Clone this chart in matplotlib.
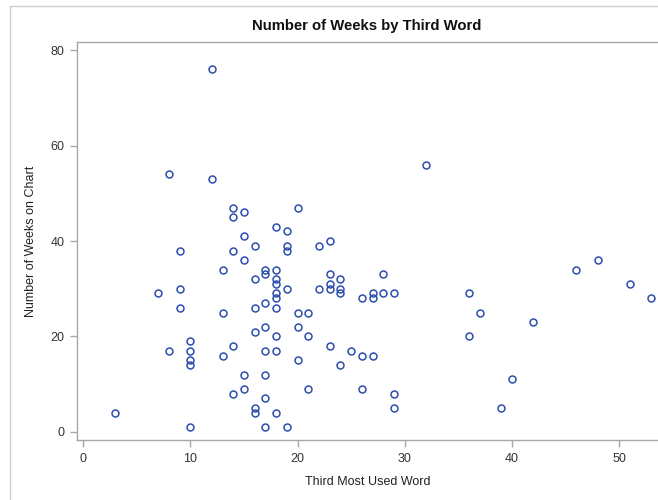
import matplotlib
matplotlib.use("Agg")
import matplotlib.pyplot as plt
from matplotlib.lines import Line2D

# data
third_word = [3, 7, 8, 8, 9, 9, 9, 10, 10, 10, 10, 10,
              12, 12, 13, 13, 13, 14, 14, 14, 14, 14,
              15, 15, 15, 15, 15, 16, 16, 16, 16, 16, 16,
              17, 17, 17, 17, 17, 17, 17, 17,
              18, 18, 18, 18, 18, 18, 18, 18, 18, 18,
              19, 19, 19, 19, 19, 20, 20, 20, 20, 21, 21, 21,
              22, 22, 23, 23, 23, 23, 23, 24, 24, 24, 24, 25,
              26, 26, 26, 27, 27, 27, 28, 28, 29, 29, 29,
              32, 36, 36, 37, 39, 40, 42, 46, 48, 51, 53]
weeks = [4, 29, 54, 17, 38, 30, 26, 19, 17, 15, 14, 1,
         76, 53, 34, 25, 16, 47, 45, 38, 18, 8,
         46, 41, 36, 12, 9, 39, 32, 26, 21, 5, 4,
         34, 33, 27, 22, 17, 12, 7, 1,
         43, 34, 32, 31, 29, 28, 26, 20, 17, 4,
         42, 39, 38, 30, 1, 47, 25, 22, 15, 25, 20, 9,
         39, 30, 40, 33, 31, 30, 18, 32, 30, 29, 14, 17,
         28, 16, 9, 29, 28, 16, 33, 29, 29, 8, 5,
         56, 29, 20, 25, 5, 11, 23, 34, 36, 31, 28]

plt.rcParams['font.family'] = ['Liberation Sans', 'DejaVu Sans']

fig = plt.figure(figsize=(6.58, 5), dpi=100)
ax = fig.add_axes([77 / 658, 60 / 500, 581 / 658, 398 / 500])

ax.plot(third_word, weeks, linestyle="none", marker="o", markersize=5,
        markerfacecolor="none", markeredgecolor="#2c4fae", markeredgewidth=1.1)

ax.set_xlim(-0.58, 53.62)
ax.set_ylim(-1.7, 81.7)
ax.set_xticks([0, 10, 20, 30, 40, 50])
ax.set_yticks([0, 20, 40, 60, 80])

for side in ["left", "bottom", "top"]:
    ax.spines[side].set_color("#a8a8a8")
    ax.spines[side].set_linewidth(1)
ax.spines["right"].set_visible(False)
ax.tick_params(direction="out", length=5, width=1, color="#a8a8a8",
               labelcolor="#333333", labelsize=9, pad=4)

ax.set_xlabel("Third Most Used Word", fontsize=9, color="#222222", labelpad=8)
ax.set_ylabel("Number of Weeks on Chart", fontsize=9, color="#222222", labelpad=10)
fig.text(367 / 658, 1 - 26 / 500, "Number of Weeks by Third Word",
         ha="center", va="center", fontsize=10.7, fontweight="bold", color="#111111")

# light outer frame of the graph area
fig.add_artist(Line2D([10 / 658, 1], [1 - 6 / 500, 1 - 6 / 500],
                      transform=fig.transFigure, color="#d0d0d0", linewidth=1))
fig.add_artist(Line2D([10 / 658, 10 / 658], [0, 1 - 6 / 500],
                      transform=fig.transFigure, color="#d0d0d0", linewidth=1))

fig.savefig("out.png", dpi=100)
